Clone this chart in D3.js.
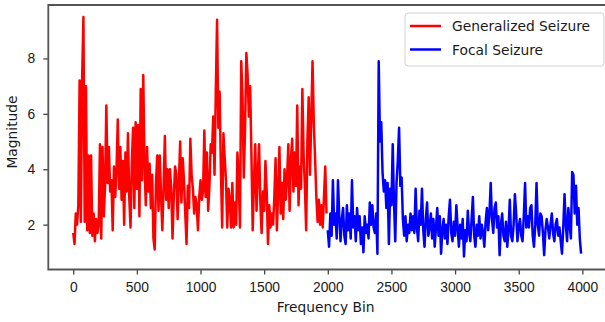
<!DOCTYPE html>
<html>
<head>
<meta charset="utf-8">
<script src="https://cdn.jsdelivr.net/npm/d3@7"></script>
<style>
  body { margin: 0; background: #fff; }
  svg { display: block; font-family: "DejaVu Sans", sans-serif; }
</style>
</head>
<body>
<div id="chart"></div>
<script>
// magnitudes, one value every 10 bins
const generalized = [
  1.7, 1.3, 2.4, 2.0, 2.7, 7.2, 2.1, 7.3, 9.5, 2.1,
  7.0, 1.8, 4.5, 1.7, 4.5, 1.6, 2.4, 1.4, 2.2, 1.7,
  2.0, 4.9, 1.5, 4.8, 2.3, 3.4, 6.3, 3.5, 4.8, 3.2,
  3.6, 1.8, 4.1, 3.0, 4.0, 5.8, 3.3, 4.8, 2.9, 4.3,
  2.0, 4.6, 3.2, 5.3, 3.0, 1.9, 4.2, 5.5, 2.6, 5.7,
  3.3, 5.6, 2.3, 6.9, 3.6, 7.4, 4.2, 2.7, 4.8, 3.2,
  4.2, 2.6, 3.8, 1.5, 1.1, 3.5, 4.5, 2.5, 4.5, 3.0,
  1.8, 3.4, 5.2, 2.9, 4.0, 2.6, 4.0, 3.3, 1.5, 3.0,
  4.1, 3.8, 2.2, 3.5, 5.0, 2.8, 4.4, 3.6, 2.4, 1.3,
  3.4, 2.6, 5.1, 3.8, 3.3, 2.4, 3.0, 2.7, 1.8, 3.0,
  3.6, 2.9, 3.2, 5.4, 3.0, 4.6, 2.5, 3.4, 4.9, 4.6,
  5.9, 3.8, 6.8, 9.4, 5.5, 6.8, 4.0, 1.9, 5.3, 4.4,
  3.6, 1.9, 3.3, 2.9, 1.9, 3.5, 1.9, 2.8, 2.0, 4.6,
  3.6, 1.9, 7.9, 6.6, 3.7, 5.5, 8.2, 7.4, 5.9, 7.0,
  4.5, 1.8, 3.6, 4.9, 2.5, 3.8, 4.9, 2.8, 1.7, 3.2,
  2.5, 4.3, 3.2, 1.3, 2.7, 1.9, 2.4, 2.0, 3.0, 4.4,
  1.8, 3.2, 4.8, 2.4, 3.5, 2.2, 4.0, 2.9, 3.7, 4.9,
  2.5, 4.3, 5.1, 3.2, 4.6, 3.4, 6.3, 2.7, 4.1, 3.3,
  6.9, 4.5, 3.4, 1.8, 5.1, 6.6, 3.8, 5.8, 7.9, 5.7,
  4.4, 3.0, 2.1, 2.9, 2.0, 2.7, 1.9, 3.0, 4.1, 2.4
];
const focal = [
  1.8, 1.2, 2.4, 1.6, 3.6, 2.0, 2.4, 1.5, 3.6, 2.3,
  1.4, 2.2, 2.6, 1.6, 1.3, 2.7, 1.8, 2.4, 1.5, 3.6,
  1.9, 2.3, 1.4, 2.6, 1.8, 2.3, 1.3, 1.9, 1.0, 2.3,
  1.7, 2.0, 1.5, 2.8, 2.0, 2.7, 1.9, 1.7, 2.4, 0.95,
  7.9, 5.0, 5.7, 3.9, 3.2, 3.6, 2.6, 3.5, 1.3, 3.3,
  2.7, 4.9, 2.8, 1.4, 3.5, 4.3, 5.5, 3.4, 3.7, 2.2,
  1.6, 2.3, 1.4, 2.0, 1.7, 2.4, 1.8, 2.3, 1.7, 3.3,
  1.9, 1.4, 2.5, 2.0, 3.3, 1.8, 1.2, 2.2, 2.8, 1.6,
  1.9, 2.4, 1.5, 2.2, 1.2, 1.9, 2.6, 1.6, 2.3, 0.95,
  1.8, 2.2, 1.5, 2.0, 1.3, 2.3, 2.9, 1.7, 1.4, 2.1,
  1.6, 2.7, 1.9, 1.2, 2.0, 1.5, 2.2, 0.85, 1.8, 1.4,
  2.5, 1.7, 1.4, 2.2, 3.0, 1.6, 1.2, 2.0, 1.6, 2.3,
  1.5, 2.0, 1.7, 1.2, 2.1, 2.6, 1.8, 2.4, 3.5, 2.2,
  1.7, 2.6, 2.8, 1.9, 2.3, 0.9, 2.0, 2.4, 1.6, 1.4,
  2.1, 1.2, 1.8, 2.9, 1.6, 1.4, 2.0, 3.1, 2.4, 1.4,
  1.9, 2.2, 1.6, 1.4, 2.3, 3.5, 1.9, 2.3, 1.9, 2.6,
  2.7, 1.6, 1.2, 2.0, 3.5, 2.0, 1.6, 2.4, 2.3, 1.7,
  0.9, 1.8, 2.2, 1.9, 1.5, 2.0, 2.4, 1.7, 1.4, 2.0,
  2.2, 1.6, 1.9, 1.4, 0.95, 1.9, 3.1, 2.0, 1.4, 2.6,
  2.0, 1.5, 3.9, 3.8, 2.4, 3.4, 2.0, 2.6, 1.5, 0.95
];
const binStep = 10;
const focalStart = 2000;
const xTicks = [0, 500, 1000, 1500, 2000, 2500, 3000, 3500, 4000];
const yTicks = [2, 4, 6, 8];
const seriesNames = ['Generalized Seizure', 'Focal Seizure'];
const seriesColors = ['#ff0000', '#0000ff'];

const W = 605, H = 322;
const plotL = 48.3, plotT = 5, plotR = 607.3, plotB = 269.5;

const svg = d3.select('#chart').append('svg')
  .attr('width', W)
  .attr('height', H);

const x = d3.scaleLinear().domain([-196, 4196]).range([plotL, plotR]);
const y = d3.scaleLinear().domain([0.38, 9.93]).range([plotB, plotT]);

const series = [
  generalized.map((v, i) => ({ bin: i * binStep, v })),
  focal.map((v, i) => ({ bin: focalStart + i * binStep, v }))
];

const line = d3.line().x(d => x(d.bin)).y(d => y(d.v));

const plot = svg.append('g');
series.forEach((s, k) => {
  plot.append('path')
    .datum(s)
    .attr('fill', 'none')
    .attr('stroke', seriesColors[k])
    .attr('stroke-width', 2.5)
    .attr('stroke-linejoin', 'round')
    .attr('d', line);
});

// axes
const xAxis = svg.append('g')
  .attr('transform', `translate(0,${plotB})`)
  .call(d3.axisBottom(x).tickValues(xTicks).tickSize(5).tickPadding(8).tickFormat(d3.format('d')));
const yAxis = svg.append('g')
  .attr('transform', `translate(${plotL},0)`)
  .call(d3.axisLeft(y).tickValues(yTicks).tickSize(5).tickPadding(8).tickFormat(d3.format('d')));

[xAxis, yAxis].forEach(a => {
  a.select('.domain').remove();
  a.selectAll('.tick line').attr('stroke', '#444').attr('stroke-width', 1.3);
  a.selectAll('.tick text').attr('fill', '#1a1a1a').style('font-size', '13.8px');
});

// frame
svg.append('path')
  .attr('d', `M${plotR},${plotT}H${plotL}V${plotB}H${plotR}`)
  .attr('fill', 'none')
  .attr('stroke', '#555')
  .attr('stroke-width', 1.8);

svg.append('text')
  .attr('x', (plotL + 605) / 2 - 1)
  .attr('y', 312)
  .attr('text-anchor', 'middle')
  .attr('fill', '#1a1a1a')
  .style('font-size', '13.8px')
  .text('Frequency Bin');

svg.append('text')
  .attr('transform', `translate(17,${132}) rotate(-90)`)
  .attr('text-anchor', 'middle')
  .attr('fill', '#1a1a1a')
  .style('font-size', '13.8px')
  .text('Magnitude');

// legend
const legend = svg.append('g').attr('transform', 'translate(405,13)');
legend.append('rect')
  .attr('width', 199)
  .attr('height', 53)
  .attr('rx', 3)
  .attr('fill', '#fff')
  .attr('fill-opacity', 0.85)
  .attr('stroke', '#d0d0d0');
seriesNames.forEach((name, k) => {
  const ly = 13 + k * 23.5;
  legend.append('line')
    .attr('x1', 5).attr('x2', 36)
    .attr('y1', ly).attr('y2', ly)
    .attr('stroke', seriesColors[k])
    .attr('stroke-width', 2.5);
  legend.append('text')
    .attr('x', 47)
    .attr('y', ly + 5)
    .attr('fill', '#1a1a1a')
    .style('font-size', '13.8px')
    .text(name);
});
</script>
</body>
</html>
